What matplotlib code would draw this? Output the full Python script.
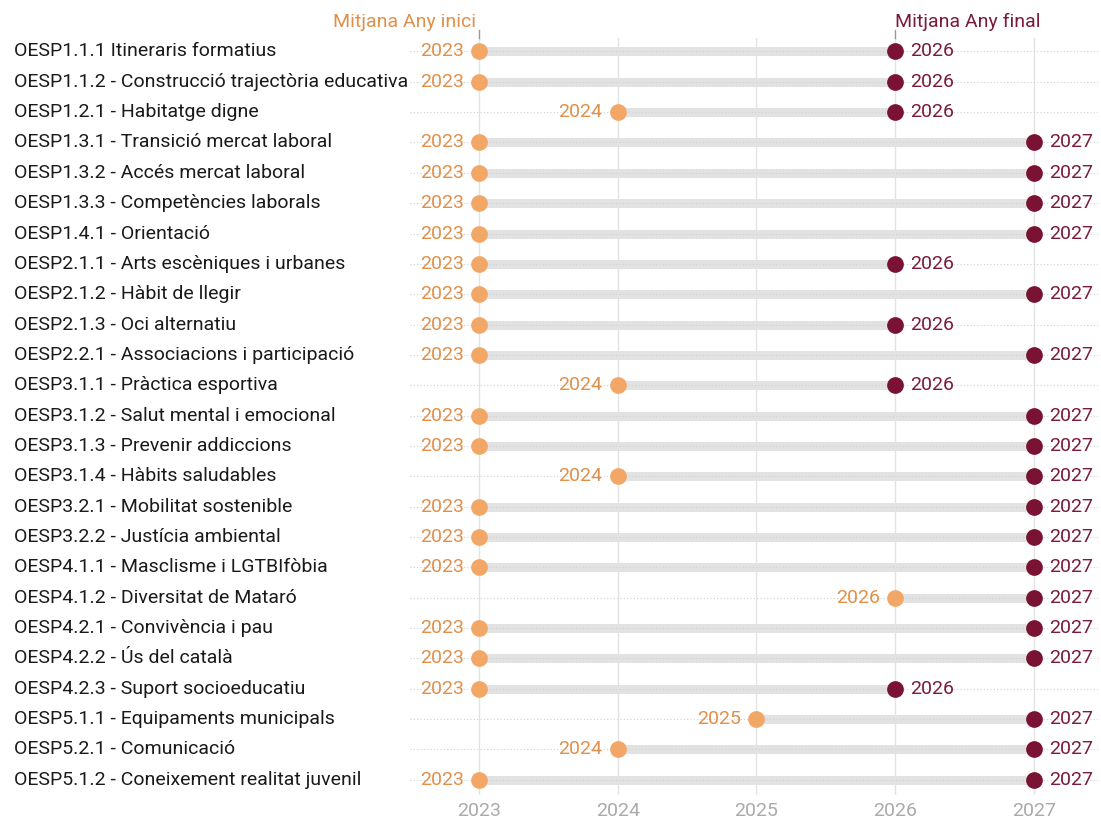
import matplotlib.pyplot as plt

plt.rcParams['font.family'] = ['Roboto', 'DejaVu Sans']

# Objectius específics i anys (inici / final)
labels = [
    "OESP1.1.1 Itineraris formatius",
    "OESP1.1.2 - Construcció trajectòria educativa",
    "OESP1.2.1 - Habitatge digne",
    "OESP1.3.1 - Transició mercat laboral",
    "OESP1.3.2 - Accés mercat laboral",
    "OESP1.3.3 - Competències laborals",
    "OESP1.4.1 - Orientació",
    "OESP2.1.1 - Arts escèniques i urbanes",
    "OESP2.1.2 - Hàbit de llegir",
    "OESP2.1.3 - Oci alternatiu",
    "OESP2.2.1 - Associacions i participació",
    "OESP3.1.1 - Pràctica esportiva",
    "OESP3.1.2 - Salut mental i emocional",
    "OESP3.1.3 - Prevenir addiccions",
    "OESP3.1.4 - Hàbits saludables",
    "OESP3.2.1 - Mobilitat sostenible",
    "OESP3.2.2 - Justícia ambiental",
    "OESP4.1.1 - Masclisme i LGTBIfòbia",
    "OESP4.1.2 - Diversitat de Mataró",
    "OESP4.2.1 - Convivència i pau",
    "OESP4.2.2 - Ús del català",
    "OESP4.2.3 - Suport socioeducatiu",
    "OESP5.1.1 - Equipaments municipals",
    "OESP5.2.1 - Comunicació",
    "OESP5.1.2 - Coneixement realitat juvenil",
]
any_inici = [2023, 2023, 2024, 2023, 2023, 2023, 2023, 2023, 2023, 2023, 2023, 2024, 2023,
             2023, 2024, 2023, 2023, 2023, 2026, 2023, 2023, 2023, 2025, 2024, 2023]
any_final = [2026, 2026, 2026, 2027, 2027, 2027, 2027, 2026, 2027, 2026, 2027, 2026, 2027,
             2027, 2027, 2027, 2027, 2027, 2027, 2027, 2027, 2026, 2027, 2027, 2027]
anys = [2023, 2024, 2025, 2026, 2027]

c_inici = '#F2A766'
c_inici_txt = '#E0904A'
c_final = '#7A1233'
c_final_txt = '#7A1A3C'
fs = 14

fig = plt.figure(figsize=(11.01, 8.22), dpi=100)
ax = fig.add_axes([0.372, 0.033, 0.625, 0.921])

ax.set_xlim(2022.5, 2027.46)
ax.set_ylim(24.5, -0.45)

for yr in anys:
    ax.axvline(yr, color='#e3e3e3', lw=1, zorder=0)

for i, (lab, a, b) in enumerate(zip(labels, any_inici, any_final)):
    ax.axhline(i, color='#d0d0d0', lw=0.8, ls=(0, (1, 2)), zorder=1)
    ax.plot([a, b], [i, i], color='#e2e2e2', lw=6.5, solid_capstyle='butt', zorder=2)
    ax.plot([a, b], [i, i], color='#d2d2d2', lw=0.8, ls=(0, (1, 2)), zorder=2.5)
    ax.scatter([a], [i], s=145, color=c_inici, zorder=3, linewidths=0)
    ax.scatter([b], [i], s=145, color=c_final, zorder=3, linewidths=0)
    ax.annotate(str(a), (a, i), xytext=(-11, 0), textcoords='offset points',
                ha='right', va='center', fontsize=fs, color=c_inici_txt)
    ax.annotate(str(b), (b, i), xytext=(11, 0), textcoords='offset points',
                ha='left', va='center', fontsize=fs, color=c_final_txt)
    ax.annotate(lab, (0, i), xycoords=('figure fraction', 'data'),
                xytext=(14 / 1101, 0), textcoords=('figure fraction', 'offset points'),
                ha='left', va='center', fontsize=fs, color='#1a1a1a', annotation_clip=False)

# capçaleres de les mitjanes
ax.annotate('Mitjana Any inici', (2023, -0.45), xytext=(-2, 11.5), textcoords='offset points',
            ha='right', va='center', fontsize=fs, color=c_inici_txt, annotation_clip=False)
ax.annotate('Mitjana Any final', (2026, -0.45), xytext=(0, 11.5), textcoords='offset points',
            ha='left', va='center', fontsize=fs, color=c_final_txt, annotation_clip=False)
for yr in (2023, 2026):
    ax.plot([yr, yr], [-0.45, -0.7], color='#999999', lw=1, clip_on=False)

ax.set_yticks([])
ax.set_xticks(anys)
ax.set_xticklabels([str(y) for y in anys], fontsize=fs, color='#aaaaaa')
ax.tick_params(axis='x', length=0, pad=5)
for s in ax.spines.values():
    s.set_visible(False)

fig.savefig('out.png', dpi=100)
